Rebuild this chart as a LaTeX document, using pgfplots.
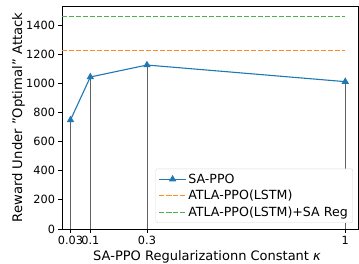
\documentclass[border=0pt]{standalone}
\usepackage{fontspec}
\setmainfont{DejaVu Sans}
\usepackage{pgfplots}
\pgfplotsset{compat=1.18}
\definecolor{tabblue}{HTML}{1F77B4}
\definecolor{lorange}{HTML}{FF8C26}
\definecolor{lgreen}{HTML}{4CB04C}
\begin{document}
\begin{tikzpicture}
\begin{axis}[
  name=ax,
  scale only axis,
  width=296pt, height=223pt,
  xmin=0, xmax=1.045, ymin=0, ymax=1530,
  xtick={0.03,0.1,0.3,1},
  xticklabels={0.03,0.1,0.3,1},
  ytick={0,200,400,600,800,1000,1200,1400},
  /pgf/number format/assume math mode=true,
  /pgf/number format/1000 sep={},
  tick align=outside,
  major tick length=3.5pt,
  major tick style={line width=0.8pt, black},
  xtick pos=bottom, ytick pos=left,
  tick label style={font=\fontsize{11.3}{13}\selectfont},
  xlabel={SA-PPO Regularizationn Constant \textit{κ}},
  ylabel={Reward Under "Optimal" Attack},
  xlabel style={font=\fontsize{13}{15}\selectfont, at={(axis description cs:0.49,-0.142)}, anchor=base, inner sep=0pt},
  ylabel style={font=\fontsize{13.2}{15}\selectfont, at={(axis description cs:-0.125,0.5)}, anchor=south, rotate=0, inner sep=0pt},
  legend style={at={(0.983,0.027)}, anchor=south east, font=\fontsize{12.6}{14}\selectfont, draw=black!15, rounded corners=2pt, row sep=1.5pt, inner sep=3pt},
  legend cell align=left,
  legend image code/.code={\draw[mark repeat=2,mark phase=2] plot coordinates {(0cm,0cm) (0.46cm,0cm) (0.92cm,0cm)};},
  axis line style={line width=0.8pt},
]
\addplot[ycomb, black!62, line width=0.75pt, forget plot] coordinates {(0.03,748) (0.1,1043) (0.3,1125) (1,1011)};
\addplot[tabblue, line width=1.1pt, mark=triangle*, mark size=3.2pt, mark options={solid}] coordinates {(0.03,748) (0.1,1043) (0.3,1125) (1,1011)};
\addlegendentry{SA-PPO}
\addplot[lorange, line width=1.4pt, dash pattern=on 5pt off 2pt] coordinates {(0,1224) (1,1224)};
\addlegendentry{ATLA-PPO(LSTM)}
\addplot[lgreen, line width=1.4pt, dash pattern=on 5pt off 2pt] coordinates {(0,1459) (1,1459)};
\addlegendentry{ATLA-PPO(LSTM)+SA Reg}
\end{axis}
\pgfresetboundingbox
\path[use as bounding box] ([shift={(-62pt,-34pt)}]ax.south west) rectangle ([shift={(1pt,6pt)}]ax.north east);
\end{tikzpicture}
\end{document}
